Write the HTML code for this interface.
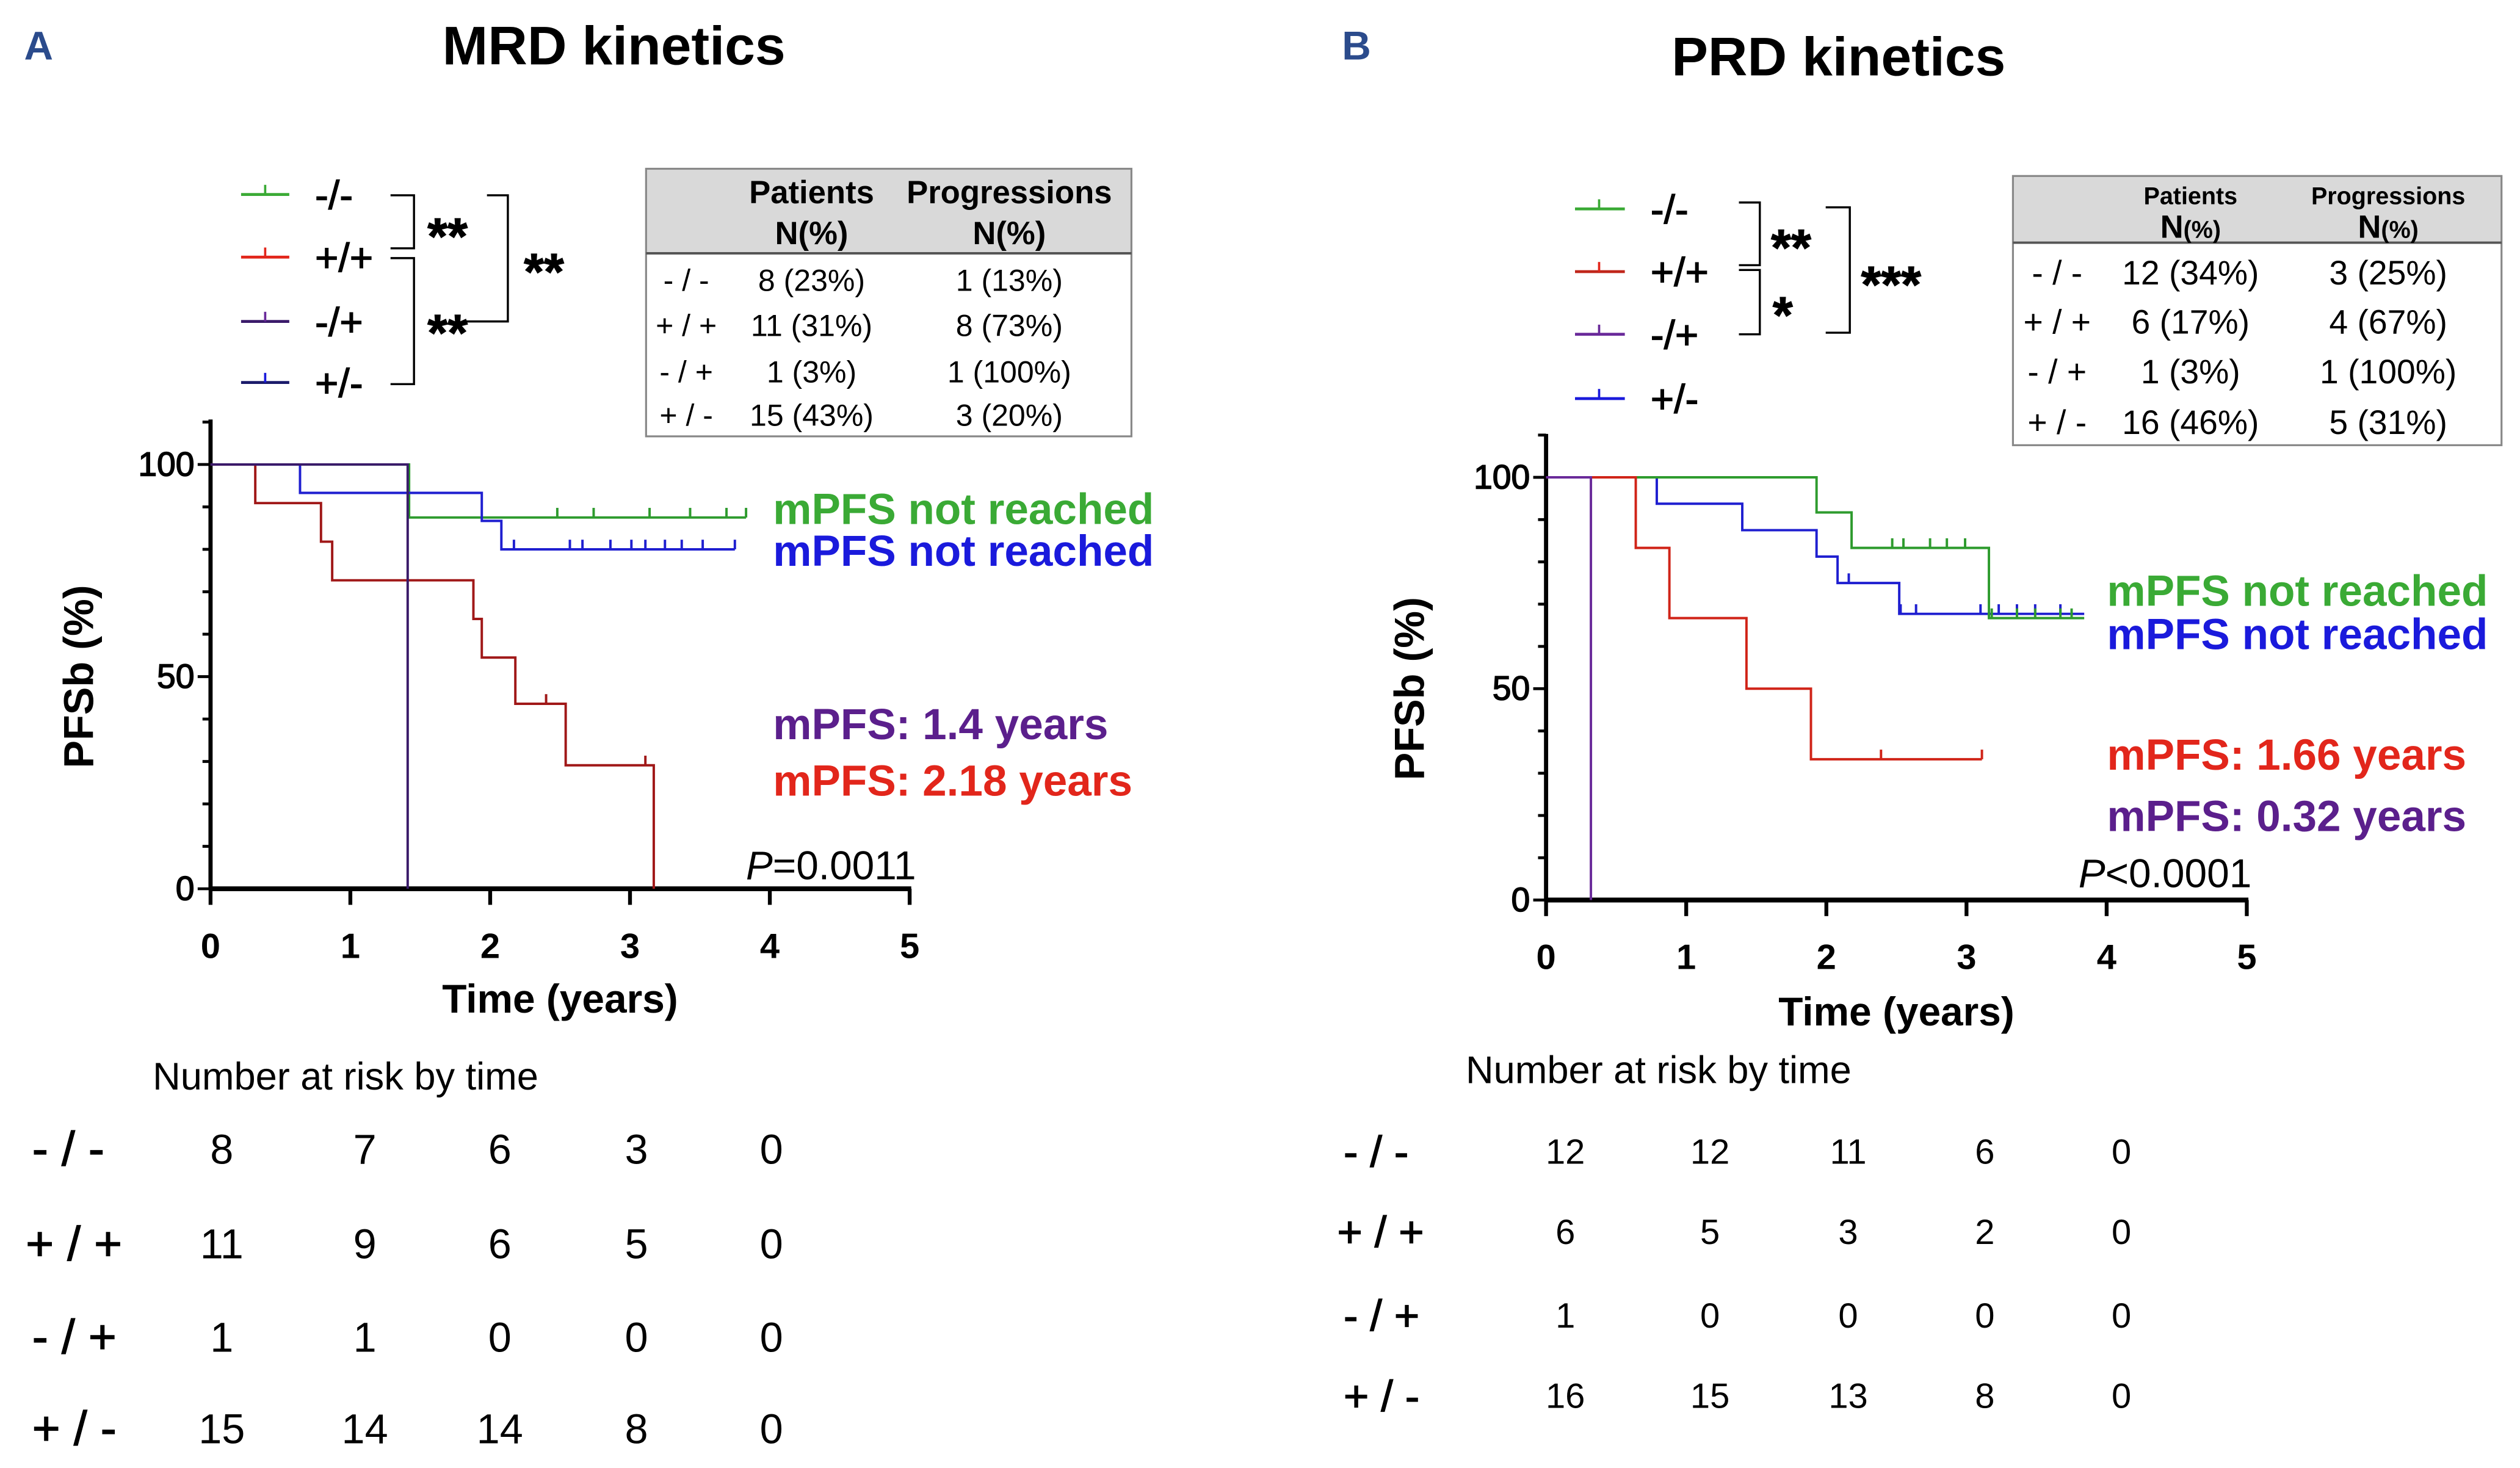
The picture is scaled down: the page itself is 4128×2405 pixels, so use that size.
<!DOCTYPE html>
<html><head><meta charset="utf-8"><style>
html,body{margin:0;padding:0;background:#fff;}
svg{display:block;}
text{font-family:"Liberation Sans",Arial,sans-serif;}
</style></head><body>
<svg id="fig" width="4128" height="2405" viewBox="0 0 1568 913.4" preserveAspectRatio="none" xmlns="http://www.w3.org/2000/svg">
<rect width="1568" height="913.4" fill="#fff"/>
<g>
<text x="15" y="37" font-size="25" font-weight="bold" fill="#2b4b8c">A</text>
<text x="382" y="40" font-size="34" font-weight="bold" text-anchor="middle">MRD kinetics</text>
<g font-size="25" stroke="#000" stroke-width="0.5">
<line x1="150" y1="121" x2="180" y2="121" stroke="#3aaa35" stroke-width="1.8"/><line x1="165" y1="121" x2="165" y2="115" stroke="#3aaa35" stroke-width="1.4"/>
<line x1="150" y1="160" x2="180" y2="160" stroke="#e2261b" stroke-width="1.8"/><line x1="165" y1="160" x2="165" y2="154" stroke="#e2261b" stroke-width="1.4"/>
<line x1="150" y1="200" x2="180" y2="200" stroke="#3a1a6a" stroke-width="1.8"/><line x1="165" y1="200" x2="165" y2="194" stroke="#6a2a9a" stroke-width="1.4"/>
<line x1="150" y1="238" x2="180" y2="238" stroke="#1a1a6a" stroke-width="1.8"/><line x1="165" y1="238" x2="165" y2="232" stroke="#1a1adc" stroke-width="1.4"/>
<text x="196" y="130">-/-</text><text x="196" y="169">+/+</text><text x="196" y="209">-/+</text><text x="196" y="247">+/-</text>
<path d="M243 121.5H257.6V154.5H243 M243 160.6H257.6V239H243 M303 121.5H316V200H290" fill="none" stroke="#000" stroke-width="1.3"/>
<text x="266" y="158" font-size="32" font-weight="bold">**</text>
<text x="266" y="218" font-size="32" font-weight="bold">**</text>
<text x="326" y="180" font-size="32" font-weight="bold">**</text>
</g>
<g font-size="20">
<rect x="402" y="105" width="302" height="52.6" fill="#d9d9d9"/>
<rect x="402" y="105" width="302" height="166.5" fill="none" stroke="#888" stroke-width="1.2"/>
<line x1="402" y1="157.6" x2="704" y2="157.6" stroke="#555" stroke-width="1.5"/>
<g font-weight="bold" text-anchor="middle" font-size="20"><text x="505" y="126.5">Patients</text><text x="628" y="126.5">Progressions</text><text x="505" y="152">N(%)</text><text x="628" y="152">N(%)</text></g>
<g text-anchor="middle" font-size="19">
<text x="427" y="181">- / -</text><text x="505" y="181">8 (23%)</text><text x="628" y="181">1 (13%)</text>
<text x="427" y="209">+ / +</text><text x="505" y="209">11 (31%)</text><text x="628" y="209">8 (73%)</text>
<text x="427" y="238">- / +</text><text x="505" y="238">1 (3%)</text><text x="628" y="238">1 (100%)</text>
<text x="427" y="265">+ / -</text><text x="505" y="265">15 (43%)</text><text x="628" y="265">3 (20%)</text>
</g></g>
<g font-size="27" font-weight="bold">
<text x="481" y="326" fill="#3aaa35">mPFS not reached</text>
<text x="481" y="352" fill="#1a1adc">mPFS not reached</text>
<text x="481" y="460" fill="#5b1f8c">mPFS: 1.4 years</text>
<text x="481" y="495" fill="#e2261b">mPFS: 2.18 years</text>
</g>
<text x="570" y="547" font-size="25" text-anchor="end"><tspan font-style="italic">P</tspan>=0.0011</text>
<g>
<text x="95" y="678" font-size="24">Number at risk by time</text>
<g font-size="30" stroke="#000" stroke-width="0.5"><text x="20" y="725">- / -</text><text x="16" y="784">+ / +</text><text x="20" y="842">- / +</text><text x="20" y="899">+ / -</text></g>
<g font-size="26" text-anchor="middle">
<text x="138" y="724">8</text><text x="227" y="724">7</text><text x="311" y="724">6</text><text x="396" y="724">3</text><text x="480" y="724">0</text>
<text x="138" y="783">11</text><text x="227" y="783">9</text><text x="311" y="783">6</text><text x="396" y="783">5</text><text x="480" y="783">0</text>
<text x="138" y="841">1</text><text x="227" y="841">1</text><text x="311" y="841">0</text><text x="396" y="841">0</text><text x="480" y="841">0</text>
<text x="138" y="898">15</text><text x="227" y="898">14</text><text x="311" y="898">14</text><text x="396" y="898">8</text><text x="480" y="898">0</text>
</g></g>
</g>
<g>
<text x="835" y="37" font-size="25" font-weight="bold" fill="#2b4b8c">B</text>
<text x="1144" y="47" font-size="34" font-weight="bold" text-anchor="middle">PRD kinetics</text>
<g font-size="25" stroke="#000" stroke-width="0.5">
<line x1="980" y1="130" x2="1011" y2="130" stroke="#3aaa35" stroke-width="1.8"/><line x1="995" y1="130" x2="995" y2="124" stroke="#3aaa35" stroke-width="1.4"/>
<line x1="980" y1="169" x2="1011" y2="169" stroke="#c0261b" stroke-width="1.8"/><line x1="995" y1="169" x2="995" y2="163" stroke="#e2261b" stroke-width="1.4"/>
<line x1="980" y1="208" x2="1011" y2="208" stroke="#6a2a9a" stroke-width="1.8"/><line x1="995" y1="208" x2="995" y2="202" stroke="#6a2a9a" stroke-width="1.4"/>
<line x1="980" y1="248" x2="1011" y2="248" stroke="#1a1adc" stroke-width="1.8"/><line x1="995" y1="248" x2="995" y2="242" stroke="#1a1adc" stroke-width="1.4"/>
<text x="1027" y="139">-/-</text><text x="1027" y="178">+/+</text><text x="1027" y="217">-/+</text><text x="1027" y="257">+/-</text>
<path d="M1082 126H1095V165H1082 M1082 168H1095V208H1082 M1136 129H1151V207H1136" fill="none" stroke="#000" stroke-width="1.3"/>
<text x="1102" y="165" font-size="32" font-weight="bold">**</text>
<text x="1103" y="207" font-size="32" font-weight="bold">*</text>
<text x="1158" y="188" font-size="32" font-weight="bold">***</text>
</g>
<g>
<rect x="1252.5" y="109.5" width="304" height="41.5" fill="#d9d9d9"/>
<rect x="1252.5" y="109.5" width="304" height="167.5" fill="none" stroke="#888" stroke-width="1.2"/>
<line x1="1252.5" y1="151" x2="1556.5" y2="151" stroke="#555" stroke-width="1.5"/>
<g font-weight="bold" text-anchor="middle" font-size="15"><text x="1363" y="127">Patients</text><text x="1486" y="127">Progressions</text>
<text x="1363" y="148"><tspan font-size="20">N</tspan>(%)</text><text x="1486" y="148"><tspan font-size="20">N</tspan>(%)</text></g>
<g text-anchor="middle" font-size="21">
<text x="1280" y="177">- / -</text><text x="1363" y="177">12 (34%)</text><text x="1486" y="177">3 (25%)</text>
<text x="1280" y="207.5">+ / +</text><text x="1363" y="207.5">6 (17%)</text><text x="1486" y="207.5">4 (67%)</text>
<text x="1280" y="238.6">- / +</text><text x="1363" y="238.6">1 (3%)</text><text x="1486" y="238.6">1 (100%)</text>
<text x="1280" y="270">+ / -</text><text x="1363" y="270">16 (46%)</text><text x="1486" y="270">5 (31%)</text>
</g></g>
<g font-size="27" font-weight="bold">
<text x="1311" y="377" fill="#3aaa35">mPFS not reached</text>
<text x="1311" y="404" fill="#1a1adc">mPFS not reached</text>
<text x="1311" y="479" fill="#e2261b">mPFS: 1.66 years</text>
<text x="1311" y="517" fill="#5b1f8c">mPFS: 0.32 years</text>
</g>
<text x="1401" y="552" font-size="25" text-anchor="end"><tspan font-style="italic">P</tspan>&lt;0.0001</text>
<g>
<text x="912" y="674" font-size="24">Number at risk by time</text>
<g font-size="27" stroke="#000" stroke-width="0.5"><text x="836" y="726">- / -</text><text x="832" y="776">+ / +</text><text x="836" y="828">- / +</text><text x="836" y="878">+ / -</text></g>
<g font-size="22" text-anchor="middle">
<text x="974" y="724">12</text><text x="1064" y="724">12</text><text x="1150" y="724">11</text><text x="1235" y="724">6</text><text x="1320" y="724">0</text>
<text x="974" y="774">6</text><text x="1064" y="774">5</text><text x="1150" y="774">3</text><text x="1235" y="774">2</text><text x="1320" y="774">0</text>
<text x="974" y="826">1</text><text x="1064" y="826">0</text><text x="1150" y="826">0</text><text x="1235" y="826">0</text><text x="1320" y="826">0</text>
<text x="974" y="876">16</text><text x="1064" y="876">15</text><text x="1150" y="876">13</text><text x="1235" y="876">8</text><text x="1320" y="876">0</text>
</g></g>
</g>
<g id="plotA"></g>
<g id="plotB"></g>
</svg>
<script>
const aGreenT=[1.42], aGreenS=[87.5], aGreenC=[2.48,2.74,3.14,3.43,3.69,3.83], aGreenEnd=3.83;
const aRedT=[0.32,0.79,0.87,1.88,1.94,2.18,2.54,3.17], aRedS=[90.9,81.8,72.7,63.6,54.5,43.6,29.1,0], aRedC=[2.40,3.11], aRedEnd=3.17;
const aPurpleT=[1.41], aPurpleS=[0], aPurpleC=[], aPurpleEnd=1.41;
const aBlueT=[0.64,1.94,2.08], aBlueS=[93.3,86.7,80], aBlueC=[2.17,2.57,2.66,2.86,3.01,3.11,3.25,3.37,3.52,3.75], aBlueEnd=3.75;
const bGreenT=[1.93,2.18,3.16], bGreenS=[91.7,83.3,66.7], bGreenC=[2.47,2.55,2.74,2.86,2.99,3.18,3.36,3.49,3.67,3.75], bGreenEnd=3.84;
const bRedT=[0.64,0.88,1.43,1.89], bRedS=[83.3,66.7,50,33.3], bRedC=[2.39,3.11], bRedEnd=3.11;
const bPurpleT=[0.32], bPurpleS=[0], bPurpleC=[], bPurpleEnd=0.32;
const bBlueT=[0.79,1.40,1.93,2.08,2.52], bBlueS=[93.75,87.5,81.25,75,67.7], bBlueC=[2.16,2.53,2.64,3.10,3.23,3.36,3.49,3.67], bBlueEnd=3.84;
const xTicks=[0,1,2,3,4,5], yTicks=[0,50,100];

const NS='http://www.w3.org/2000/svg';
function mk(tag,attrs,parent){const e=document.createElementNS(NS,tag);for(const k in attrs)e.setAttribute(k,attrs[k]);parent.appendChild(e);return e;}

function drawPanel(g,ax,series){
  const X=t=>ax.x0+(ax.x5-ax.x0)*t/5, Y=v=>ax.y0+(ax.y100-ax.y0)*v/100;
  const yAxis=mk('line',{x1:X(0),y1:ax.top,x2:X(0),y2:Y(0),stroke:'#000','stroke-width':2.6},g);
  
  
  const xAxis=mk('line',{x1:X(0)-1,y1:Y(0),x2:X(5)+1,y2:Y(0),stroke:'#000','stroke-width':3},g);
  
  
  for(let v=0;v<=110;v+=10){const yy=Y(v);if(yy<ax.top)break;mk('line',{x1:X(0)-(v%50===0?8:5),y1:yy,x2:X(0),y2:yy,stroke:'#000','stroke-width':1.8},g);}
  yTicks.forEach(v=>{const t=mk('text',{x:X(0)-10,y:Y(v)+7,'font-size':21,'text-anchor':'end',stroke:'#000','stroke-width':0.6},g);t.textContent=v;
    
    });
  xTicks.forEach(v=>{mk('line',{x1:X(v),y1:Y(0),x2:X(v),y2:Y(0)+10,stroke:'#000','stroke-width':2.4},g);
    const t=mk('text',{x:X(v),y:Y(0)+43,'font-size':22,'font-weight':'bold','text-anchor':'middle'},g);t.textContent=v;
    
    });
  const xt=mk('text',{x:(X(0)+X(5))/2,y:ax.xTitleY,'font-size':25,'font-weight':'bold','text-anchor':'middle'},g);xt.textContent='Time (years)';
  
  
  const yt=mk('text',{x:0,y:0,'font-size':26,'font-weight':'bold','text-anchor':'middle',transform:`translate(${ax.yTitleX},${(Y(0)+Y(100))/2}) rotate(-90)`},g);yt.textContent='PFSb (%)';
  
  
  series.forEach(s=>{
    let d=`M${X(0)},${Y(100)}`;
    s.t.forEach((t,i)=>{d+=`H${X(t)}V${Y(s.s[i])}`;});
    d+=`H${X(s.end)}`;
    const p=mk('path',{d:d,fill:'none',stroke:s.color,'stroke-width':1.5},g);
    
    
    s.c.forEach(c=>{let v=100;s.t.forEach((t,i)=>{if(t<=c)v=s.s[i];});
      const m=mk('line',{x1:X(c),y1:Y(v),x2:X(c),y2:Y(v)-6,stroke:s.color,'stroke-width':1.5},g);
      
      });
  });
}
drawPanel(document.getElementById('plotA'),{x0:131,x5:566,y0:553,y100:289,top:261,xTitleY:630,yTitleX:58},[
 {name:'green',t:aGreenT,s:aGreenS,c:aGreenC,end:aGreenEnd,color:'#2e9b2e'},
 {name:'blue',t:aBlueT,s:aBlueS,c:aBlueC,end:aBlueEnd,color:'#1f1fd0'},
 {name:'red',t:aRedT,s:aRedS,c:aRedC,end:aRedEnd,color:'#a01818'},
 {name:'purple',t:aPurpleT,s:aPurpleS,c:aPurpleC,end:aPurpleEnd,color:'#3a1a6a'}]);
drawPanel(document.getElementById('plotB'),{x0:962,x5:1398,y0:560,y100:297,top:270,xTitleY:638,yTitleX:886},[
 {name:'blue',t:bBlueT,s:bBlueS,c:bBlueC,end:bBlueEnd,color:'#1f1fd0'},
 {name:'green',t:bGreenT,s:bGreenS,c:bGreenC,end:bGreenEnd,color:'#2e9b2e'},
 {name:'red',t:bRedT,s:bRedS,c:bRedC,end:bRedEnd,color:'#d02418'},
 {name:'purple',t:bPurpleT,s:bPurpleS,c:bPurpleC,end:bPurpleEnd,color:'#6a2a9a'}]);
</script>
</body></html>
